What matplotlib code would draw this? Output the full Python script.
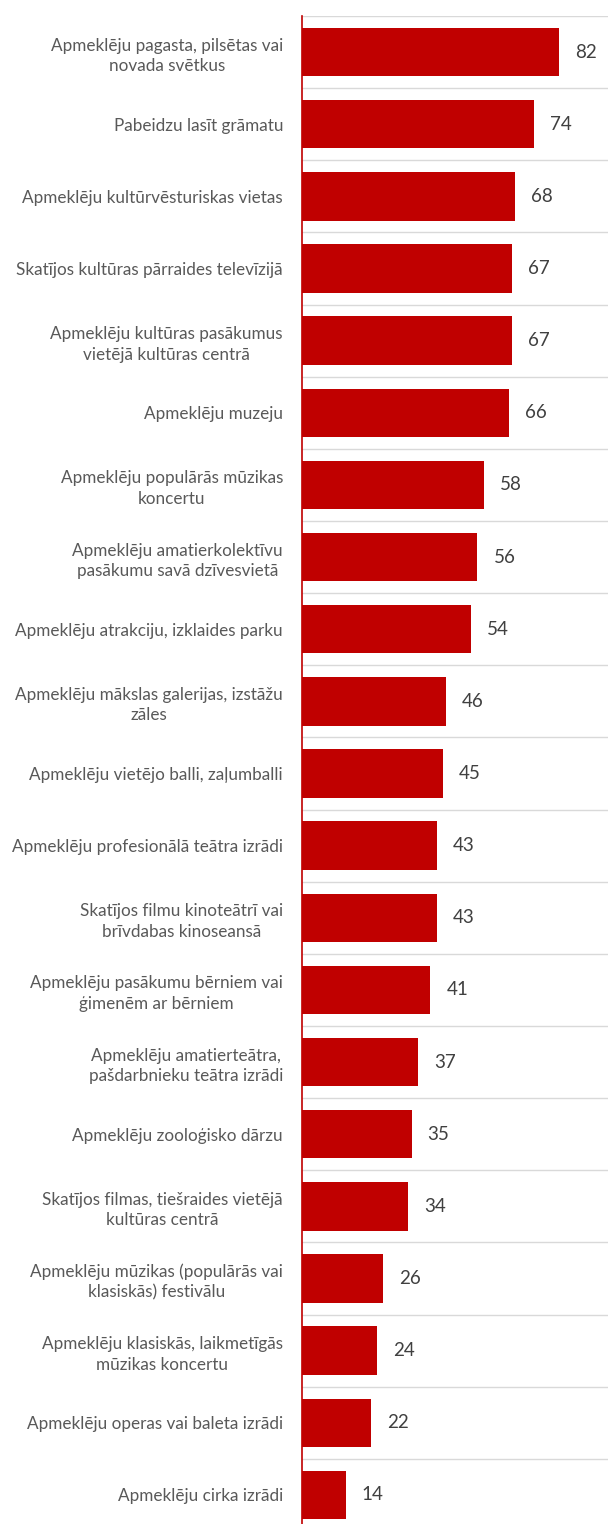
import matplotlib
matplotlib.use("Agg")
import matplotlib.pyplot as plt

categories = [
    "Apmeklēju pagasta, pilsētas vai\nnovada svētkus",
    "Pabeidzu lasīt grāmatu",
    "Apmeklēju kultūrvēsturiskas vietas",
    "Skatījos kultūras pārraides televīzijā",
    "Apmeklēju kultūras pasākumus\nvietējā kultūras centrā",
    "Apmeklēju muzeju",
    "Apmeklēju populārās mūzikas\nkoncertu",
    "Apmeklēju amatierkolektīvu\npasākumu savā dzīvesvietā",
    "Apmeklēju atrakciju, izklaides parku",
    "Apmeklēju mākslas galerijas, izstāžu\nzāles",
    "Apmeklēju vietējo balli, zaļumballi",
    "Apmeklēju profesionālā teātra izrādi",
    "Skatījos filmu kinoteātrī vai\nbrīvdabas kinoseansā",
    "Apmeklēju pasākumu bērniem vai\nģimenēm ar bērniem",
    "Apmeklēju amatierteātra,\npašdarbnieku teātra izrādi",
    "Apmeklēju zooloģisko dārzu",
    "Skatījos filmas, tiešraides vietējā\nkultūras centrā",
    "Apmeklēju mūzikas (populārās vai\nklasiskās) festivālu",
    "Apmeklēju klasiskās, laikmetīgās\nmūzikas koncertu",
    "Apmeklēju operas vai baleta izrādi",
    "Apmeklēju cirka izrādi",
]
values = [82, 74, 68, 67, 67, 66, 58, 56, 54, 46, 45, 43, 43, 41, 37, 35, 34, 26, 24, 22, 14]

plt.rcParams["font.family"] = ["Lato", "DejaVu Sans"]

W, H = 608, 1524
fig = plt.figure(figsize=(W / 100, H / 100), dpi=100)
left_px, top_px, bottom_px = 302, 16, 1531
ax = fig.add_axes([left_px / W, 1 - bottom_px / H, 1 - left_px / W, (bottom_px - top_px) / H])

n = len(values)
pos = list(range(n))
ax.barh(pos, values, height=0.67, color="#C00000", zorder=3)
ax.set_ylim(n - 0.5, -0.5)
ax.set_xlim(0, 97.7)

# light separators between categories
for k in range(n):
    ax.axhline(k - 0.5, color="#D9D9D9", lw=1.0, zorder=1)

for p, v in zip(pos, values):
    ax.annotate(str(v), (v, p), xytext=(16, 0), textcoords="offset pixels",
                ha="left", va="center", fontsize=13.5, color="#404040")

ax.set_yticks(pos)
ax.set_yticklabels(categories, fontsize=12.3, color="#595959", ha="right",
                   multialignment="center", linespacing=1.35)
ax.tick_params(axis="y", length=0, pad=19 * 72 / 100)
ax.set_xticks([])

for s in ["top", "right", "bottom"]:
    ax.spines[s].set_visible(False)
ax.spines["left"].set_color("#C00000")
ax.spines["left"].set_linewidth(1.2)
ax.spines["left"].set_zorder(4)

fig.savefig("out.png", dpi=100)
